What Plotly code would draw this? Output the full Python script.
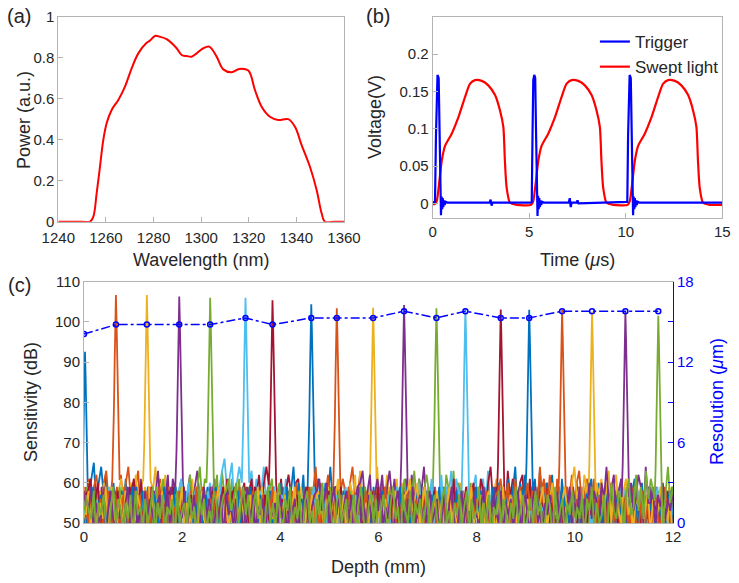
import plotly.graph_objects as go

# ---- (a) source spectrum ----
wavelength_nm = [1240, 1245, 1250, 1253.3, 1254.7, 1256.1, 1257.5, 1258.9, 1260.3, 1262.4,
                 1265.2, 1268, 1270.8, 1273.6, 1277.1, 1278.5, 1280.6, 1282.7, 1285.5,
                 1289.7, 1291.8, 1293.9, 1296, 1298.1, 1300.9, 1303.4, 1306.5, 1309.3,
                 1312.8, 1316, 1319.8, 1322.6, 1325.4, 1328.9, 1332.4, 1336.6, 1339.4,
                 1342.2, 1345.7, 1348.5, 1350.6, 1352, 1356, 1360]
power_au = [0, 0, 0, 0, 0.024, 0.138, 0.268, 0.399, 0.48, 0.545,
            0.594, 0.659, 0.748, 0.821, 0.873, 0.883, 0.906, 0.902, 0.89,
            0.846, 0.813, 0.808, 0.805, 0.821, 0.846, 0.854, 0.805, 0.743,
            0.729, 0.745, 0.737, 0.642, 0.561, 0.512, 0.496, 0.5, 0.463,
            0.374, 0.268, 0.155, 0.041, 0, 0, 0]

# ---- (b) trigger and swept light ----
time_red = [0, 0.1, 0.21, 0.33, 0.47, 0.64, 0.98, 1.33, 1.67, 1.93, 2.19, 2.54, 2.88, 3.23,
            3.49, 3.66, 3.74, 3.83, 4.0, 4.35, 5.1,
            5.21, 5.33, 5.47, 5.64, 5.98, 6.33, 6.67, 6.93, 7.19, 7.54, 7.88, 8.23,
            8.49, 8.66, 8.74, 8.83, 9.0, 9.35, 10.1,
            10.21, 10.33, 10.47, 10.64, 10.98, 11.33, 11.67, 11.93, 12.19, 12.54, 12.88, 13.23,
            13.49, 13.66, 13.74, 13.83, 14.0, 14.35, 15]
volt_red = [-0.001, -0.001, 0.003, 0.026, 0.057, 0.077, 0.093, 0.115, 0.142, 0.16, 0.165, 0.164, 0.158, 0.145,
            0.124, 0.102, 0.057, 0.021, 0.001, -0.002, -0.002,
            0.003, 0.026, 0.057, 0.077, 0.093, 0.115, 0.142, 0.16, 0.165, 0.164, 0.158, 0.145,
            0.124, 0.102, 0.057, 0.021, 0.001, -0.002, -0.002,
            0.003, 0.026, 0.057, 0.077, 0.093, 0.115, 0.142, 0.16, 0.165, 0.164, 0.158, 0.145,
            0.124, 0.102, 0.057, 0.021, 0.001, -0.002, -0.002]

time_blue = [0, 0.12, 0.17, 0.21, 0.25, 0.31, 0.35, 0.39, 0.43, 0.46, 0.49, 0.52, 0.55, 0.58, 0.62, 0.67, 0.75,
             2.95, 3.0, 3.05, 3.1, 5.08,
             5.13, 5.17, 5.21, 5.26, 5.31, 5.35, 5.39, 5.43, 5.46, 5.49, 5.52, 5.55, 5.58, 5.62, 5.67, 5.75,
             7.05, 7.1, 7.15, 7.2, 7.45, 7.5, 7.55, 10.03,
             10.08, 10.12, 10.16, 10.2, 10.26, 10.3, 10.34, 10.38, 10.41, 10.44, 10.47, 10.5, 10.53, 10.57, 10.62, 10.7,
             15]
volt_blue = [0.001, 0.002, 0.09, 0.165, 0.172, 0.168, 0.1, 0.01, -0.016, 0.009, -0.008, 0.007, -0.005, 0.004, -0.002, 0.002, 0.001,
             0.001, 0.005, -0.003, 0.001, 0.001,
             0.002, 0.09, 0.165, 0.172, 0.168, 0.1, 0.01, -0.017, 0.01, -0.008, 0.007, -0.005, 0.004, -0.002, 0.002, 0.001,
             0.001, 0.007, -0.005, 0.001, 0.001, 0.004, 0.0, 0.001,
             0.002, 0.09, 0.165, 0.172, 0.168, 0.1, 0.01, -0.016, 0.009, -0.008, 0.007, -0.005, 0.004, -0.002, 0.002, 0.001,
             0.001]

# ---- (c) sensitivity roll-off and axial resolution ----
peak_depth_mm = [0.02, 0.65, 1.28, 1.94, 2.57, 3.29, 3.84, 4.63, 5.15, 5.89,
                 6.52, 7.18, 7.77, 8.49, 9.07, 9.74, 10.35, 11.03, 11.70]
peak_db = [92.6, 106.7, 106.7, 106.3, 106.0, 106.0, 105.4, 104.4, 103.4, 103.5,
           104.2, 103.4, 103.4, 103.1, 103.0, 103.1, 102.5, 102.5, 101.5]
resolution_um = [14.1, 14.8, 14.8, 14.8, 14.8, 15.3, 14.8, 15.3, 15.3, 15.3,
                 15.8, 15.3, 15.8, 15.3, 15.3, 15.8, 15.8, 15.8, 15.8]
res_depth_mm = [0.0, 0.65, 1.28, 1.94, 2.57, 3.29, 3.84, 4.63, 5.15, 5.89,
                6.52, 7.18, 7.77, 8.49, 9.07, 9.74, 10.35, 11.03, 11.70]

# point spread shape of one A-line peak (offset in mm, dB below the peak)
psf_dx = [-0.075, -0.055, -0.04, -0.025, -0.012, 0, 0.012, 0.025, 0.04, 0.055, 0.075]
psf_drop = [46, 38, 28, 16, 6, 0, 6, 16, 28, 38, 46]

# noise floor estimated by eye (dB), one value every 0.05 mm
noise_db = [
    58, 61, 53, 56, 60, 49, 55, 59, 52, 57, 47, 54, 58, 51, 56, 45, 53, 59, 50, 55,
    48, 57, 52, 46, 56, 53, 59, 49, 54, 51, 57, 45, 55, 58, 50, 53, 47, 56, 52, 59,
    48, 54, 57, 51, 46, 55, 58, 50, 53, 56, 44, 52, 57, 49, 55, 59, 51, 47, 54, 58,
    50, 56, 45, 53, 57, 52, 48, 55, 59, 51, 54, 46, 57, 53, 50, 58, 47, 55, 52, 56,
    49, 53, 58, 45, 54, 57, 51, 48, 56, 59, 50, 53, 46, 55, 52, 57, 49, 54, 58, 47,
    56, 51, 53, 59, 48, 55, 50, 57, 45, 54, 52, 58, 49, 56, 53, 47, 55, 51, 59, 50,
    54, 57, 46, 53, 56, 49, 58, 52, 55, 48, 51, 57, 54, 45, 59, 50, 53, 56, 47, 55,
    52, 58, 49, 54, 51, 57, 46, 56, 53, 59, 48, 55, 50, 52, 57, 45, 54, 58, 51, 49,
    56, 53, 47, 55, 59, 50, 52, 57, 48, 54, 46, 58, 51, 56, 53, 49, 55, 57, 45, 52,
    59, 50, 54, 48, 56, 53, 51, 58, 47, 55, 52, 57, 49, 46, 54, 59, 50, 56, 53, 48,
    55, 51, 57, 45, 58, 52, 54, 49, 56, 50, 53, 59, 47, 55, 51, 57, 48, 54, 52, 56,
    46, 58, 50, 53, 55, 49, 57, 51, 54, 47, 59, 52, 56, 48, 53, 50, 58, 55, 46, 54,
    57]

matlab_colors = ['#0072BD', '#D95319', '#EDB120', '#7E2F8E', '#77AC30', '#4DBEEE', '#A2142F']

AXCOL = '#b4b4b4'
TXT = '#262626'
FONT = 'Liberation Sans, Arial'
W, H = 739, 583

fig = go.Figure()

# (a)
fig.add_trace(go.Scatter(x=wavelength_nm, y=power_au, mode='lines', line=dict(color='#ff0000', width=2),
                         line_shape='spline', showlegend=False, xaxis='x', yaxis='y'))

# (b)
fig.add_trace(go.Scatter(x=time_red, y=volt_red, mode='lines',
                         line=dict(color='#ff0000', width=2.2, shape='spline', smoothing=0.6),
                         name='Swept light', xaxis='x2', yaxis='y2', legendrank=2))
fig.add_trace(go.Scatter(x=time_blue, y=volt_blue, mode='lines', line=dict(color='#0000ff', width=2.2),
                         name='Trigger', xaxis='x2', yaxis='y2', legendrank=1))

# (c) one A-line per depth
n = len(noise_db)
for i, (pos, top) in enumerate(zip(peak_depth_mm, peak_db)):
    pts = []
    for j in range(n):
        x = j * 0.05 + i * 0.0026
        d = abs(x - pos)
        if d < 0.08:
            continue
        v = noise_db[(j + 37 * i) % n]
        if d < 0.5:
            v += 5
        elif d < 1.0:
            v += 2
        pts.append((x, v))
    for dx, dr in zip(psf_dx, psf_drop):
        pts.append((pos + dx, top - dr))
    pts.sort()
    fig.add_trace(go.Scatter(x=[p[0] for p in pts], y=[p[1] for p in pts], mode='lines',
                             line=dict(color=matlab_colors[i % 7], width=1.8),
                             showlegend=False, xaxis='x3', yaxis='y3'))

fig.add_trace(go.Scatter(x=res_depth_mm, y=resolution_um, mode='lines+markers',
                         line=dict(color='#0000ff', width=1.5, dash='dashdot'),
                         marker=dict(symbol='circle-open', size=5, color='#0000ff', line=dict(width=1.5)),
                         showlegend=False, xaxis='x3', yaxis='y4'))

axis_common = dict(showline=True, linecolor=AXCOL, linewidth=1, mirror=True, ticks='inside',
                   ticklen=5, tickcolor=AXCOL, showgrid=False, zeroline=False, automargin=False,
                   tickfont=dict(size=15, color=TXT))


def label(text, x, y, angle=0, color=TXT, size=18):
    return dict(text=text, x=x / W, y=1 - y / H, xref='paper', yref='paper', xanchor='center',
                yanchor='middle', textangle=angle, showarrow=False, font=dict(size=size, color=color))


fig.update_layout(
    width=W, height=H, margin=dict(l=0, r=0, t=0, b=0),
    plot_bgcolor='white', paper_bgcolor='white',
    font=dict(family=FONT, size=15, color=TXT),
    xaxis=dict(domain=[0.0789, 0.4655], range=[1240, 1360], dtick=20, anchor='y',
               ticklabelstandoff=2, **axis_common),
    yaxis=dict(domain=[0.6197, 0.9714], range=[0, 1], dtick=0.2, anchor='x', **axis_common),
    xaxis2=dict(domain=[0.5855, 0.9774], range=[0, 15], dtick=5, anchor='y2', **axis_common),
    yaxis2=dict(domain=[0.6256, 0.9714], range=[-0.02, 0.25], tickvals=[0, 0.05, 0.1, 0.15, 0.2],
                ticktext=['0', '0.05', '0.1', '0.15', '0.2'], anchor='x2', **axis_common),
    xaxis3=dict(domain=[0.1137, 0.9107], range=[0, 12], dtick=2, anchor='y3', **axis_common),
    yaxis3=dict(domain=[0.1029, 0.5168], range=[50, 110], dtick=10, anchor='x3',
                **{**axis_common, 'mirror': False}),
    yaxis4=dict(overlaying='y3', side='right', anchor='x3', range=[0, 18], automargin=False,
                tickvals=[0, 3, 6, 9, 12, 15, 18], ticktext=['0', '', '6', '', '12', '', '18'],
                showline=True, linecolor='#0000ff', linewidth=1, ticks='inside', ticklen=5,
                tickcolor='#0000ff', showgrid=False, zeroline=False,
                tickfont=dict(size=15, color='#0000ff')),
    legend=dict(x=0.805, y=1 - 24 / H, xanchor='left', yanchor='top', bgcolor='rgba(0,0,0,0)',
                font=dict(size=17, color=TXT), tracegroupgap=0),
    annotations=[
        label('(a)', 19, 16, size=20),
        label('(b)', 378, 16, size=20),
        label('(c)', 19, 285, size=20),
        label('Power (a.u.)', 24, 120, angle=-90),
        label('Wavelength (nm)', 201, 260),
        label('Voltage(V)', 375, 117, angle=-90),
        label('Time (<i>μ</i>s)', 577, 260),
        label('Sensitivity (dB)', 31, 402, angle=-90),
        label('Depth (mm)', 378, 567),
        label('Resolution (<i>μ</i>m)', 717, 402, angle=-90, color='#0000ff'),
    ],
)

fig.write_html("out.html", post_script="document.body.style.margin='0';",
               config={'displayModeBar': False})
